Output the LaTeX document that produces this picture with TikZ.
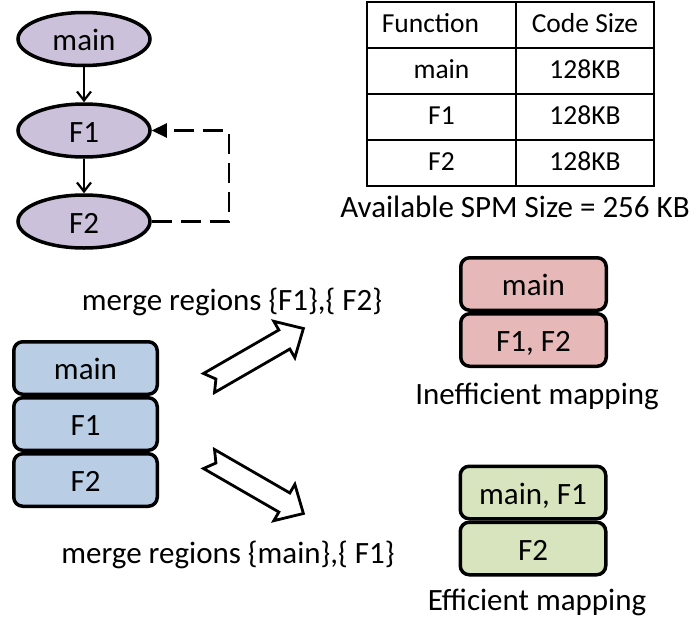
\documentclass[tikz,border=0pt]{standalone}
\usepackage{fontspec}
\setmainfont{Carlito}
\usepackage{xcolor}
\definecolor{cFunc}{HTML}{CCC1DA}
\definecolor{cOrig}{HTML}{B9CDE5}
\definecolor{cBad}{HTML}{E6B9B8}
\definecolor{cGood}{HTML}{D7E4BD}
\usetikzlibrary{positioning,arrows.meta,shapes.geometric}
\newcommand{\bigfont}{\fontsize{31}{37}\selectfont}
\newcommand{\tblfont}{\fontsize{27.5}{33}\selectfont}
\tikzset{
  fn-node/.style={ellipse,draw,line width=3.5pt,fill=cFunc,minimum width=132pt,
    minimum height=53pt,inner sep=0pt,font=\bigfont,text height=27pt,text depth=4pt},
  call/.style={-{Straight Barb[length=9pt,width=14pt]},line width=2.2pt},
  feedback/.style={-{Triangle[length=15pt,width=14pt]},line width=2.2pt,
    dash pattern=on 20pt off 9pt},
  cell/.style={draw,line width=2pt,outer sep=0pt,inner sep=0pt,
    minimum height=46.2pt,font=\tblfont,text height=20pt,text depth=5pt},
  region/.style={draw,line width=3.5pt,rounded corners=9pt,minimum width=145.5pt,
    minimum height=52.5pt,inner sep=0pt,font=\bigfont,text height=27pt,text depth=4pt},
  region-orig/.style={fill=cOrig,minimum width=143.5pt},
  region-bad/.style={fill=cBad},
  region-good/.style={fill=cGood},
  fat-arrow/.style={draw,line width=2.8pt,fill=white,line join=miter},
  label-text/.style={font=\bigfont,anchor=base,inner sep=0pt},
}

\begin{document}
\begin{tikzpicture}[x=1pt,y=-1pt,node distance=35pt]
  \useasboundingbox (0,0) rectangle (696,621);
  % call graph
  \node[fn-node] (fn-main) at (84,39) {main};
  \node[fn-node,below=of fn-main] (fn-f1) {F1};
  \node[fn-node,below=34.5pt of fn-f1] (fn-f2) {F2};
  \draw[call] (fn-main) -- (fn-f1);
  \draw[call] (fn-f1) -- (fn-f2);
  \draw[feedback] (fn-f2.east) -- ++(77,0) |- (fn-f1.east);
  % code size table
  \node[cell,minimum width=149pt] (tbl-fn) at (441.5,24.6) {\hspace*{-22pt}Function};
  \node[cell,minimum width=138pt,right=0pt of tbl-fn] (tbl-size) {Code Size};
  \node[cell,minimum width=149pt,below=0pt of tbl-fn] (tbl-main) {main};
  \node[cell,minimum width=138pt,right=0pt of tbl-main] (tbl-main-size) {128KB};
  \node[cell,minimum width=149pt,below=0pt of tbl-main] (tbl-f1) {F1};
  \node[cell,minimum width=138pt,right=0pt of tbl-f1] (tbl-f1-size) {128KB};
  \node[cell,minimum width=149pt,below=0pt of tbl-f1] (tbl-f2) {F2};
  \node[cell,minimum width=138pt,right=0pt of tbl-f2] (tbl-f2-size) {128KB};
  \node[label-text] (lbl-spm) at (515,217) {Available SPM Size = 256 KB};
  % original regions
  \node[region,region-orig] (orig-main) at (85.5,368) {main};
  \node[region,region-orig,below=0pt of orig-main] (orig-f1) {F1};
  \node[region,region-orig,below=0pt of orig-f1] (orig-f2) {F2};
  % inefficient merge
  \node[region,region-bad] (bad-main) at (533.5,284) {main};
  \node[region,region-bad,below=0pt of bad-main] (bad-f1f2) {F1, F2};
  \node[label-text] (lbl-bad) at (537,404) {Inefficient mapping};
  \node[label-text] (lbl-merge-bad) at (232,310) {merge regions \{F1\},\{ F2\}};
  % efficient merge
  \node[region,region-good] (good-mainf1) at (533,492.5) {main, F1};
  \node[region,region-good,below=0pt of good-mainf1] (good-f2) {F2};
  \node[label-text] (lbl-good) at (537,610) {Efficient mapping};
  \node[label-text] (lbl-merge-good) at (228,563) {merge regions \{main\},\{ F1\}};
  % merge arrows
  \draw[fat-arrow,shift={(209,383)},rotate=30]
    (0,11) -- (87,11) -- (87,21) -- (109,0) -- (87,-21) -- (87,-11) -- (0,-11) -- (8,0) -- cycle;
  \draw[fat-arrow,shift={(209,459)},rotate=-30]
    (0,11) -- (87,11) -- (87,21) -- (109,0) -- (87,-21) -- (87,-11) -- (0,-11) -- (8,0) -- cycle;
\end{tikzpicture}
\end{document}
